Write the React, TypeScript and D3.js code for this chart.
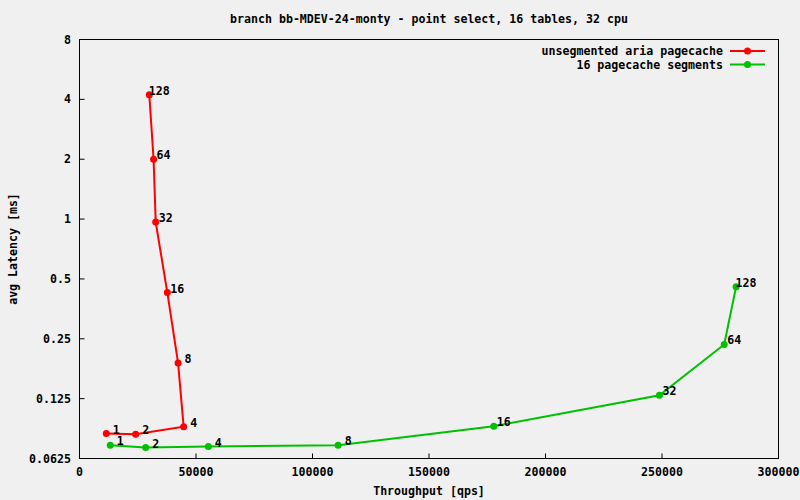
import React from "react";
import * as d3 from "d3";

const title = "branch bb-MDEV-24-monty - point select, 16 tables, 32 cpu";
const xLabel = "Throughput [qps]";
const yLabel = "avg Latency [ms]";
const threads = [1, 2, 4, 8, 16, 32, 64, 128];
const unsegThroughput = [11500, 24100, 44700, 42300, 37700, 32700, 31800, 29950];
const unsegLatency = [0.0834, 0.0827, 0.0904, 0.189, 0.427, 0.966, 2.0, 4.22];
const segThroughput = [13200, 28400, 55300, 111000, 177800, 248900, 276700, 281800];
const segLatency = [0.0729, 0.0709, 0.0718, 0.0729, 0.0908, 0.13, 0.234, 0.457];
const xTicks = [0, 50000, 100000, 150000, 200000, 250000, 300000];
const yTicks = [0.0625, 0.125, 0.25, 0.5, 1, 2, 4, 8];
const seriesNames = ["unsegmented aria pagecache", "16 pagecache segments"];
const seriesColors = ["#ff0000", "#00c000"];

const W = 800, H = 500;
const L = 79.5, R = 778.5, T = 39.5, B = 458.5;
const FONT = "'DejaVu Sans Mono', 'Liberation Mono', monospace";

export default function App() {
  const x = d3.scaleLinear().domain([0, 300000]).range([L, R]);
  const y = d3.scaleLog().base(2).domain([0.0625, 8]).range([B, T]);
  const series = [
    { name: seriesNames[0], color: seriesColors[0], xs: unsegThroughput, ys: unsegLatency },
    { name: seriesNames[1], color: seriesColors[1], xs: segThroughput, ys: segLatency },
  ];
  const line = d3.line<[number, number]>().x((d) => x(d[0])).y((d) => y(d[1]));
  const txt = { fontFamily: FONT, fontSize: 11.6, fontWeight: "bold" as const, fill: "#000" };

  return (
    <div style={{ position: "fixed", left: 0, top: 0, width: W, height: H }}>
      <svg width={W} height={H} style={{ display: "block", background: "#f0f0f0" }}>
        <rect x={0} y={0} width={W} height={H} fill="#f0f0f0" />
        <text x={(L + R) / 2} y={19} textAnchor="middle" dominantBaseline="central" {...txt}>{title}</text>
        {yTicks.map((t) => (
          <g key={"y" + t}>
            <line x1={L} x2={L + 5} y1={y(t)} y2={y(t)} stroke="#000" strokeWidth={1} />
            <text x={71} y={y(t)} textAnchor="end" dominantBaseline="central" {...txt}>{String(t)}</text>
          </g>
        ))}
        {xTicks.map((t) => (
          <g key={"x" + t}>
            <line x1={x(t)} x2={x(t)} y1={B} y2={B - 5} stroke="#000" strokeWidth={1} />
            <text x={x(t)} y={472} textAnchor="middle" dominantBaseline="central" {...txt}>{String(t)}</text>
          </g>
        ))}
        <rect x={L} y={T} width={R - L} height={B - T} fill="none" stroke="#000" strokeWidth={1} />
        <text x={(L + R) / 2} y={491} textAnchor="middle" dominantBaseline="central" {...txt}>{xLabel}</text>
        <text transform={`translate(13,${(T + B) / 2}) rotate(-90)`} textAnchor="middle" dominantBaseline="central" {...txt}>{yLabel}</text>
        {series.map((s, si) => {
          const pts: [number, number][] = s.xs.map((v, i) => [v, s.ys[i]]);
          const ly = 51 + si * 13.5;
          return (
            <g key={s.name}>
              <path d={line(pts) || ""} fill="none" stroke={s.color} strokeWidth={2} />
              {pts.map((p, i) => (
                <circle key={i} cx={x(p[0])} cy={y(p[1])} r={3.5} fill={s.color} />
              ))}
              {pts.map((p, i) => (
                <text key={"l" + i} x={x(p[0]) + 10} y={y(p[1]) - 4} textAnchor="middle" dominantBaseline="central" {...txt}>{String(threads[i])}</text>
              ))}
              <text x={723} y={ly} textAnchor="end" dominantBaseline="central" {...txt}>{s.name}</text>
              <line x1={730} x2={765} y1={ly} y2={ly} stroke={s.color} strokeWidth={2} />
              <circle cx={747.5} cy={ly} r={3.5} fill={s.color} />
            </g>
          );
        })}
      </svg>
    </div>
  );
}
